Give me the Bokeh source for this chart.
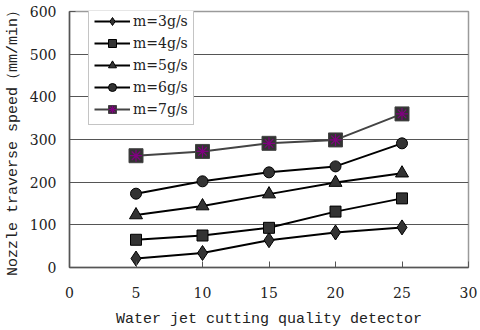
from bokeh.plotting import figure
from bokeh.models import FixedTicker, Legend, LegendItem
from bokeh.embed import file_html
from bokeh.resources import INLINE

x = [5, 10, 15, 20, 25]
m3 = [21, 34, 64, 82, 94]
m4 = [65, 75, 93, 131, 162]
m5 = [123, 144, 172, 199, 221]
m6 = [173, 202, 223, 237, 291]
m7 = [262, 272, 291, 299, 360]

labels = ["m=3g/s", "m=4g/s", "m=5g/s", "m=6g/s", "m=7g/s"]
x_ticks = [0, 5, 10, 15, 20, 25, 30]
y_ticks = [0, 100, 200, 300, 400, 500, 600]

p = figure(width=480, height=330, output_backend="svg", toolbar_location=None,
           x_range=(0, 30), y_range=(0, 600),
           min_border_left=69, min_border_right=12, min_border_top=11, min_border_bottom=62)

p.background_fill_color = "white"
p.border_fill_color = "white"
p.outline_line_color = "#9a9a9a"
p.outline_line_width = 1.5
p.xgrid.grid_line_color = None
p.ygrid.grid_line_color = "#555555"
p.ygrid.grid_line_width = 1

for ax in (p.xaxis[0], p.yaxis[0]):
    ax.axis_line_color = "#555555"
    ax.axis_line_width = 1.5
    ax.major_tick_line_color = "#555555"
    ax.minor_tick_line_color = None
    ax.major_tick_out = 0
    ax.major_tick_in = 6
    ax.major_label_text_font = "DejaVu Serif"
    ax.major_label_text_font_size = "14px"
    ax.major_label_text_color = "#222222"
    ax.axis_label_text_font = "Liberation Mono"
    ax.axis_label_text_font_style = "normal"
    ax.axis_label_text_color = "#222222"

p.xaxis.ticker = FixedTicker(ticks=x_ticks)
p.yaxis.ticker = FixedTicker(ticks=y_ticks)
p.xaxis.major_label_standoff = 19
p.yaxis.major_label_standoff = 13
p.xaxis.axis_label = "Water jet cutting quality detector"
p.xaxis.axis_label_text_font_size = "15px"
p.xaxis.axis_label_standoff = 10
p.yaxis.axis_label = "Nozzle traverse speed\uff08mm/min\uff09"
p.yaxis.axis_label_text_font_size = "15px"
p.yaxis.axis_label_standoff = 5

items = []
series = [m3, m4, m5, m6]
markers = ["diamond", "square", "triangle", "circle"]
sizes = [15, 11, 13, 11]
for vals, mk, sz, lab in zip(series, markers, sizes, labels[:4]):
    l = p.line(x, vals, line_color="black", line_width=2)
    s = p.scatter(x, vals, marker=mk, size=sz, fill_color="#333333", line_color="black", line_width=1)
    items.append(LegendItem(label=lab, renderers=[l, s]))

l7 = p.line(x, m7, line_color="#444444", line_width=2)
s7 = p.scatter(x, m7, marker="square", size=14, fill_color="#333333", line_color="#444444", line_width=1)
a7 = p.scatter(x, m7, marker="asterisk", size=12, line_color="#800080", line_width=1.2)
items.append(LegendItem(label=labels[4], renderers=[l7, s7, a7]))

legend = Legend(items=items, location=(19, 142))
legend.border_line_color = "#8a8a8a"
legend.border_line_width = 1.5
legend.background_fill_color = "white"
legend.background_fill_alpha = 1
legend.label_text_font = "DejaVu Serif"
legend.label_text_font_size = "14px"
legend.label_text_color = "#222222"
legend.glyph_width = 36
legend.glyph_height = 20
legend.label_height = 20
legend.spacing = 2
legend.padding = 5
legend.margin = 0
legend.label_standoff = 3
p.add_layout(legend)

open("out.html", "w").write(file_html(p, INLINE))
